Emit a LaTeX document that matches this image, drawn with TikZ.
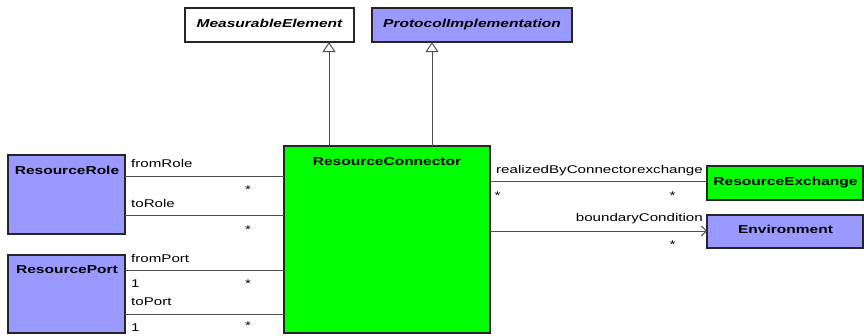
\documentclass[tikz,border=0pt]{standalone}
\usepackage{fontspec}
\setmainfont{Liberation Sans}[FakeStretch=1.35]
\usetikzlibrary{arrows.meta}
\definecolor{cblue}{HTML}{9999FF}
\definecolor{cgreen}{HTML}{00FF00}
\definecolor{lgray}{HTML}{505050}
\tikzset{
  cls/.style={draw=black!85, line width=1.3pt, inner sep=0pt},
  cname/.style={font=\fontsize{11.5}{13}\selectfont\bfseries, anchor=base, inner sep=0pt},
  iname/.style={font=\fontsize{11.5}{13}\selectfont\bfseries\itshape, anchor=base, inner sep=0pt},
  lbl/.style={font=\fontsize{11.2}{13}\selectfont, anchor=base west, inner sep=0pt},
  rlbl/.style={font=\fontsize{11.2}{13}\selectfont, anchor=base east, inner sep=0pt},
  star/.style={font=\fontsize{11.2}{13}\selectfont, anchor=base, inner sep=0pt},
  conn/.style={draw=lgray, line width=1pt},
  gen/.style={conn, -{Triangle[open, length=10pt, width=13pt, line width=1pt, fill=white]}},
  nav/.style={conn, -{Straight Barb[length=5pt, width=10pt, line width=1pt]}}
}
\begin{document}
\begin{tikzpicture}[x=1pt,y=-1pt]
\useasboundingbox (0,0) rectangle (864,335);
% boxes
\draw[cls, fill=white] (185,8) rectangle (354,42);
\draw[cls, fill=cblue] (372,8) rectangle (572,42);
\draw[cls, fill=cgreen] (284,146) rectangle (490,333);
\draw[cls, fill=cblue] (8,155) rectangle (125,234);
\draw[cls, fill=cblue] (8,255) rectangle (125,333);
\draw[cls, fill=cgreen] (707,166) rectangle (863,200);
\draw[cls, fill=cblue] (707,215) rectangle (863,248);
% class names
\node[iname] (tME) at (269.5,27) {MeasurableElement};
\node[iname] (tPI) at (472,27) {ProtocolImplementation};
\node[cname] (tRC) at (387,165) {ResourceConnector};
\node[cname] (tRR) at (67,174) {ResourceRole};
\node[cname] (tRP) at (67,273) {ResourcePort};
\node[cname] (tRE) at (785.5,185) {ResourceExchange};
\node[cname] (tEN) at (785.5,233) {Environment};
% anchor coordinates
\coordinate (rcME) at (329,146);
\coordinate (meB) at (329,42);
\coordinate (rcPI) at (432,146);
\coordinate (piB) at (432,42);
\coordinate (rrA) at (125,176);
\coordinate (rcA) at (284,176);
\coordinate (rrB) at (125,215);
\coordinate (rcB) at (284,215);
\coordinate (rpA) at (125,270);
\coordinate (rcC) at (284,270);
\coordinate (rpB) at (125,314);
\coordinate (rcD) at (284,314);
\coordinate (rcE) at (490,181.5);
\coordinate (reA) at (707,181.5);
\coordinate (rcF) at (490,231);
\coordinate (enA) at (707,231);
% generalizations
\draw[gen] (rcME) -- (meB);
\draw[gen] (rcPI) -- (piB);
% associations
\draw[conn] (rrA) -- (rcA);
\draw[conn] (rrB) -- (rcB);
\draw[conn] (rpA) -- (rcC);
\draw[conn] (rpB) -- (rcD);
\draw[conn] (rcE) -- (reA);
\draw[nav] (rcF) -- (enA);
% labels
\node[lbl] (l1) at (131,167.5) {fromRole};
\node[star] (s1) at (248,193.5) {*};
\node[lbl] (l2) at (131,207) {toRole};
\node[star] (s2) at (248,233) {*};
\node[lbl] (l3) at (131,262) {fromPort};
\node[lbl] (m3) at (131,287.5) {1};
\node[star] (s3) at (248,287) {*};
\node[lbl] (l4) at (131,305.5) {toPort};
\node[lbl] (m4) at (131,331.5) {1};
\node[star] (s4) at (248,329) {*};
\node[lbl] (l5) at (496,173) {realizedByConnector};
\node[rlbl] (l6) at (703,173) {exchange};
\node[star] (s5) at (497.5,199) {*};
\node[star] (s6) at (672.5,199) {*};
\node[rlbl] (l7) at (703,221) {boundaryCondition};
\node[star] (s7) at (672.5,248.5) {*};
\end{tikzpicture}
\end{document}
